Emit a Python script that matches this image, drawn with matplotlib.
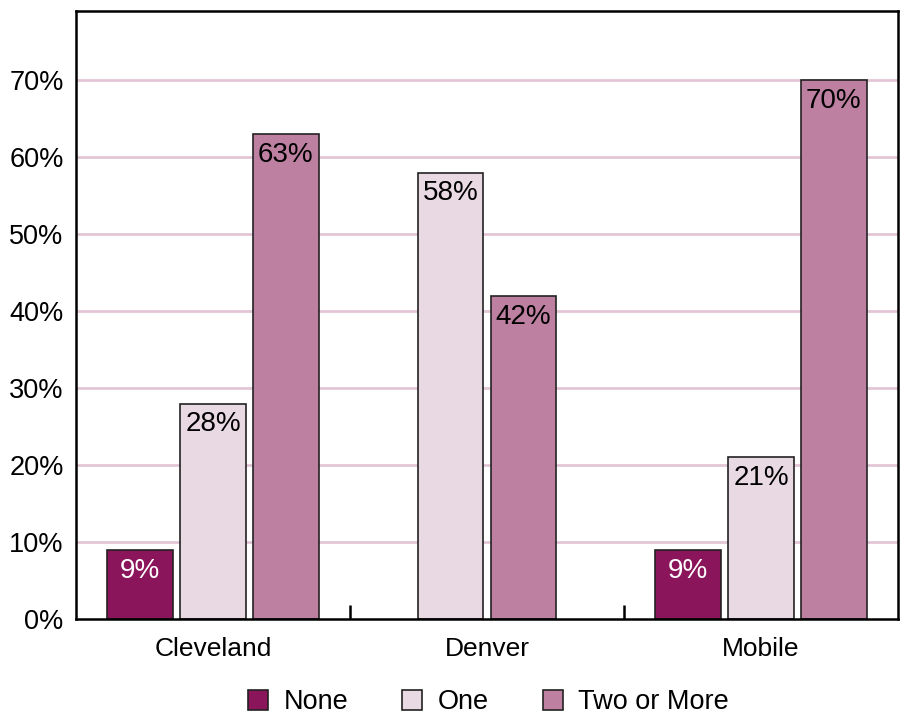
import numpy as np
import matplotlib.pyplot as plt
from matplotlib.patches import Patch

plt.rcParams['font.family'] = ['Liberation Sans', 'DejaVu Sans']

# Share of households by number of vehicles, per city
cities = ['Cleveland', 'Denver', 'Mobile']
series = ['None', 'One', 'Two or More']
none_vals = [9, None, 9]
one_vals = [28, 58, 21]
two_vals = [63, 42, 70]
colors = ['#8B155B', '#E9D9E3', '#BD80A1']
text_colors = ['white', 'black', 'black']

values = [none_vals, one_vals, two_vals]

fig = plt.figure(figsize=(9.01, 7.14), dpi=100)
ax = fig.add_axes([0.0844, 0.133, 0.9123, 0.8516])

width = 0.24
step = 0.266

for ci, city in enumerate(cities):
    # bars present for this city get centred around the category position
    present = [si for si in range(len(series)) if values[si][ci] is not None]
    offsets = (np.arange(len(present)) - (len(present) - 1) / 2) * step
    for off, si in zip(offsets, present):
        v = values[si][ci]
        ax.bar(ci + off, v, width=width, color=colors[si],
               edgecolor='#222222', linewidth=1.2, zorder=2)
        ax.annotate(f'{v}%', (ci + off, v), xytext=(0, -15),
                    textcoords='offset points', ha='center', va='center',
                    fontsize=20, color=text_colors[si], zorder=3)

ax.set_xlim(-0.5, len(cities) - 0.5)
ax.set_ylim(0, 79)
ax.set_yticks(np.arange(0, 80, 10))
ax.set_yticklabels([f'{t}%' for t in range(0, 80, 10)], fontsize=19.5)
ax.tick_params(axis='y', length=0, pad=9)

ax.set_xticks(range(len(cities)))
ax.set_xticklabels(cities, fontsize=19)
ax.tick_params(axis='x', which='major', length=0, pad=13)
ax.set_xticks([0.5, 1.5], minor=True)
ax.tick_params(axis='x', which='minor', direction='in', length=10,
               width=1.8, color='black')

for y in range(10, 80, 10):
    ax.axhline(y, color='#E3C6D6', linewidth=2, zorder=1)

for s in ax.spines.values():
    s.set_linewidth(1.8)
    s.set_zorder(4)

handles = [Patch(facecolor=c, edgecolor='#222222', linewidth=1.2) for c in colors]
fig.legend(handles, series, loc='lower center', bbox_to_anchor=(0.542, -0.036),
           ncol=3, frameon=False, fontsize=19.5, handlelength=0.75,
           handleheight=0.75, handletextpad=0.55, columnspacing=2.0)

fig.savefig('out.png', dpi=100)
